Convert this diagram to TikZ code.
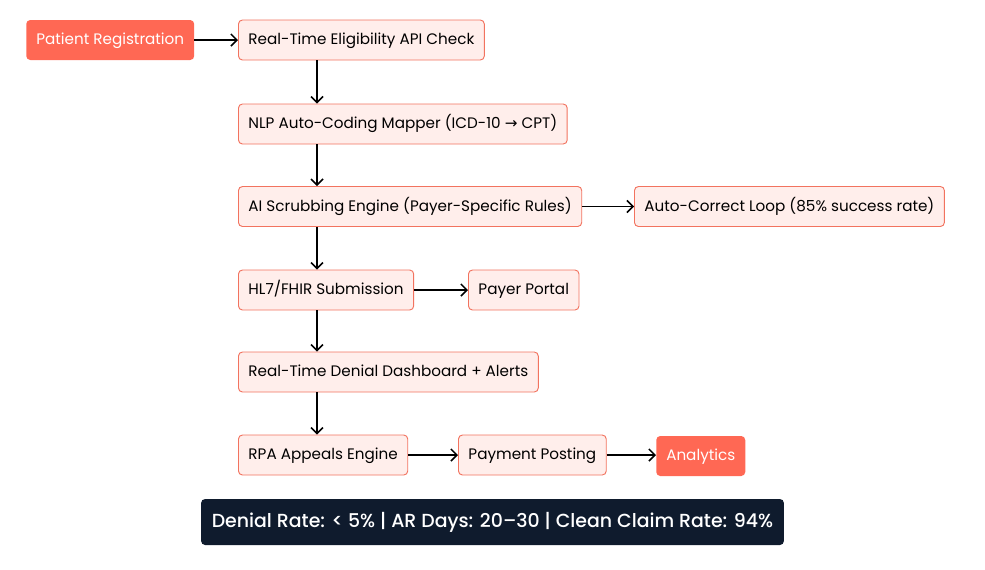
\documentclass[tikz,border=0pt]{standalone}
\usepackage{fontspec}
\setmainfont{Poppins}
\newfontfamily\symfont{DejaVu Sans}
\newfontfamily\barfont{Poppins}[UprightFont=* Medium]
\usetikzlibrary{arrows.meta,positioning,calc}
\definecolor{salmon}{HTML}{FF6854}
\definecolor{salmonBorder}{HTML}{F2735F}
\definecolor{pinkBg}{HTML}{FFEEEB}
\definecolor{navyBar}{HTML}{0F1B2D}
\tikzset{
  arr/.style={-{Straight Barb[length=4.5pt,width=9pt]}, line width=1.1pt, black},
  stepbox/.style={draw=salmonBorder, fill=pinkBg, rounded corners=3pt, line width=0.7pt,
    minimum height=30pt, inner xsep=7.5pt, anchor=west, font=\fontsize{11.4}{13}\selectfont,
    text height=8.5pt, text depth=1.5pt, text=black},
  endbox/.style={fill=salmon, rounded corners=3pt, minimum height=30pt,
    inner xsep=7.5pt, anchor=west, font=\fontsize{11.4}{13}\selectfont,
    text height=8.5pt, text depth=1.5pt, text=white},
  statbar/.style={fill=navyBar, rounded corners=3pt, minimum height=34.5pt,
    inner xsep=8pt, font=\fontsize{14.2}{16}\barfont, text height=10.5pt,
    text depth=2pt, text=white}
}

\begin{document}
\begin{tikzpicture}[x=0.75pt,y=-0.75pt]
  \useasboundingbox (0,0) rectangle (985,569);
  \coordinate (spine) at (317,0);
  \node[endbox] (reg) at (26,40) {Patient Registration};
  \node[stepbox] (elig) at (238,40) {Real-Time Eligibility API Check};
  \node[stepbox] (nlp) at (238,124) {NLP Auto-Coding Mapper (ICD-10 {\symfont →} CPT)};
  \node[stepbox] (scrub) at (238,206.5) {AI Scrubbing Engine (Payer-Specific Rules)};
  \node[stepbox] (fix) at (634,206.5) {Auto-Correct Loop (85\% success rate)};
  \node[stepbox] (hl7) at (238,290) {HL7/FHIR Submission};
  \node[stepbox] (portal) at (468,290) {Payer Portal};
  \node[stepbox] (dash) at (238,372) {Real-Time Denial Dashboard + Alerts};
  \node[stepbox] (rpa) at (238,455) {RPA Appeals Engine};
  \node[stepbox] (post) at (458,455) {Payment Posting};
  \node[endbox] (stats) at (656,456) {Analytics};
  \node[statbar] (kpi) at (492.5,522) {Denial Rate: < 5\% | AR Days: 20–30 | Clean Claim Rate: 94\%};

  \draw[arr] (reg) -- (elig);
  \draw[arr] (elig.south -| spine) -- (nlp.north -| spine);
  \draw[arr] (nlp.south -| spine) -- (scrub.north -| spine);
  \draw[arr] (scrub) -- (fix);
  \draw[arr] (scrub.south -| spine) -- (hl7.north -| spine);
  \draw[arr] (hl7) -- (portal);
  \draw[arr] (hl7.south -| spine) -- (dash.north -| spine);
  \draw[arr] (dash.south -| spine) -- (rpa.north -| spine);
  \draw[arr] (rpa) -- (post);
  \draw[arr] (post) -- (post -| stats.west);
\end{tikzpicture}
\end{document}
